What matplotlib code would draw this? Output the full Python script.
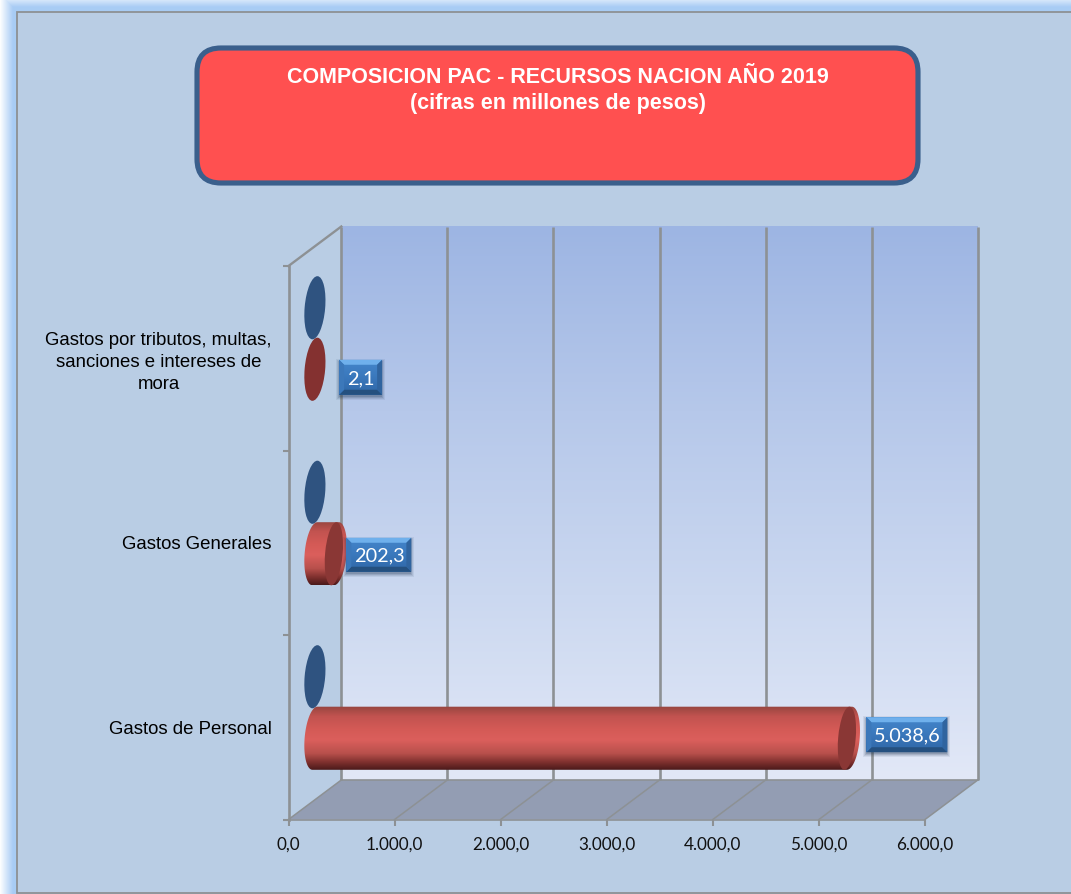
import numpy as np
import matplotlib
matplotlib.use("Agg")
import matplotlib.pyplot as plt
from matplotlib.colors import LinearSegmentedColormap
from matplotlib.patches import Ellipse, FancyBboxPatch, Polygon, Rectangle
from matplotlib.path import Path
from matplotlib.transforms import Affine2D, IdentityTransform

# ---- data ----
categories = ["Gastos de Personal", "Gastos Generales",
              "Gastos por tributos, multas,\nsanciones e intereses de\nmora"]
pac_values = [5038.6, 202.3, 2.1]
other_values = [0.0, 0.0, 0.0]
value_labels = ["5.038,6", "202,3", "2,1"]
x_ticks = [0, 1000, 2000, 3000, 4000, 5000, 6000]
x_tick_labels = ["0,0", "1.000,0", "2.000,0", "3.000,0", "4.000,0", "5.000,0", "6.000,0"]
title_lines = "COMPOSICION PAC - RECURSOS NACION AÑO 2019\n(cifras en millones de pesos)"

# ---- figure ----
W, H = 1071, 894
fig = plt.figure(figsize=(W / 100, H / 100), dpi=100, facecolor="white")
ID = IdentityTransform()
GREY = "#8D9194"

# background glow + panel
bg = fig.add_axes([0, 0, 1, 1], zorder=0)
bg.set_axis_off()
xx, yy = np.meshgrid(np.arange(W) + .5, np.arange(H) + .5)
t = np.clip(np.minimum(xx / 13.0, (yy + 6) / 13.0), 0, 1)
glow0 = np.array([1, 1, 1.0])
glow1 = np.array([0.66, 0.80, 0.96])
img = glow0 + (glow1 - glow0) * t[..., None]
bg.imshow(img, extent=(0, W, H, 0), aspect="auto", interpolation="nearest")
bg.add_patch(Rectangle((16.5, 11.5), W, H - 12.5, fc="#B9CDE4", ec=GREY, lw=1.3))
bg.set_xlim(0, W)
bg.set_ylim(H, 0)

# title box
bg.add_patch(FancyBboxPatch((197, 48), 721, 135, boxstyle="round,pad=0,rounding_size=24",
                            fc="#FF5050", ec="#3A5F8C", lw=3.7, zorder=3))
bg.text(557.5, 90.5, title_lines, ha="center", va="center", color="white", fontsize=15.5,
        fontweight="bold", family="Liberation Sans", linespacing=1.36, zorder=4)

# main axes = front plane of the 3-D box
FX0, FX1, FY0, FY1 = 288.5, 925.0, 819.5, 266.0
ax = fig.add_axes([FX0 / W, (H - FY0) / H, (FX1 - FX0) / W, (FY0 - FY1) / H], zorder=1)
ax.patch.set_visible(False)
ax.set_autoscale_on(False)
ax.set_xlim(0, 6000)
ax.set_ylim(0, 3)
DX, DY = 52.8, 39.5
back = ax.transData + Affine2D().translate(DX, DY)
mid = ax.transData + Affine2D().translate(DX / 2, DY / 2)

# back wall gradient
wall_cmap = LinearSegmentedColormap.from_list("wall", ["#9DB5E3", "#B6C8EA", "#CBD8F0", "#E2E8F7"])
p0 = back.transform((0, 0))
p1 = back.transform((6000, 3))
ax.imshow(np.linspace(0, 1, 256)[:, None], cmap=wall_cmap, aspect="auto", origin="upper",
          extent=(p0[0], p1[0], p0[1], p1[1]), transform=ID, clip_on=False, zorder=1)

# floor
f00 = ax.transData.transform((0, 0))
f60 = ax.transData.transform((6000, 0))
b00 = back.transform((0, 0))
b60 = back.transform((6000, 0))
ax.add_patch(Polygon([f00, b00, b60, f60], closed=True, transform=ID, fc="#939DB3", ec="none",
                     clip_on=False, zorder=1.2))

LW = 1.9
for v in x_ticks:
    b0, b1 = back.transform((v, 0)), back.transform((v, 3))
    f0 = ax.transData.transform((v, 0))
    ax.plot([b0[0], b1[0]], [b0[1], b1[1]], transform=ID, color=GREY, lw=LW,
            clip_on=False, zorder=1.5, solid_capstyle="butt")
    ax.plot([f0[0], b0[0]], [f0[1], b0[1]], transform=ID, color=GREY, lw=1.1,
            clip_on=False, zorder=1.5)
ax.plot([b00[0], b60[0]], [b00[1], b60[1]], transform=ID, color=GREY, lw=1.2, clip_on=False, zorder=1.5)
t0, t1 = ax.transData.transform((0, 3)), back.transform((0, 3))
ax.plot([t0[0], t1[0]], [t0[1], t1[1]], transform=ID, color=GREY, lw=1.7, clip_on=False, zorder=1.5)

# axes furniture
for s in ("top", "right"):
    ax.spines[s].set_visible(False)
for s in ("left", "bottom"):
    ax.spines[s].set_color(GREY)
    ax.spines[s].set_linewidth(LW if s == "left" else 1.2)
ax.set_xticks(x_ticks)
ax.set_xticklabels(x_tick_labels, family="Lato", fontsize=12.3, color="#111111")
ax.tick_params(axis="x", length=4, width=1.5, color=GREY, pad=8)
ax.set_yticks(np.arange(3) + 0.5)
ax.set_yticklabels(categories, family="Liberation Sans", fontsize=13.4, color="black", ma="center",
                   linespacing=1.38)
ax.set_yticks(np.arange(4), minor=True)
ax.tick_params(axis="y", which="major", length=0, pad=12)
ax.tick_params(axis="y", which="minor", length=4, width=1.5, color=GREY)

# cylinders
BAR_H = 1 / 3
EW, EANG = 20.5, -5.0
pxh = 1.03 * abs(ax.transData.transform((0, BAR_H))[1] - ax.transData.transform((0, 0))[1])
bar_cmap = LinearSegmentedColormap.from_list(
    "bar", [(0, "#96453F"), (0.16, "#C25350"), (0.36, "#D45A56"), (0.53, "#DB5F5C"),
            (0.74, "#B8504C"), (0.89, "#7A2E2C"), (1, "#4A1A1A")])


def ellipse_pts(cx, cy, theta):
    a, b = EW / 2, pxh / 2
    ang = np.radians(EANG)
    x, y = a * np.cos(theta), b * np.sin(theta)
    return np.c_[cx + x * np.cos(ang) - y * np.sin(ang), cy + x * np.sin(ang) + y * np.cos(ang)]


def ellipse(cx, cy, width, color, z):
    ax.add_patch(Ellipse((cx, cy), width, pxh, angle=EANG, transform=ID, fc=color, ec="none",
                         clip_on=False, zorder=z))


for i, (v_red, v_blue) in enumerate(zip(pac_values, other_values)):
    # blue series (value 0: only its end cap shows) sits in the upper half of the band
    bx, by = mid.transform((v_blue, i + 0.5 + BAR_H / 2))
    ellipse(bx, by, EW, "#2F5380", 4)
    # red series
    rx0, ry = mid.transform((0, i + 0.5 - BAR_H / 2))
    rx1, _ = mid.transform((v_red, i + 0.5 - BAR_H / 2))
    left = ellipse_pts(rx0, ry, np.linspace(np.pi / 2, 3 * np.pi / 2, 40))
    right = ellipse_pts(rx1, ry, np.linspace(-np.pi / 2, np.pi / 2, 40))
    outline = np.vstack([left, right, left[:1]])
    if rx1 - rx0 < 5:
        ellipse(rx0, ry, EW, "#843130", 6)
        continue
    im = ax.imshow(np.linspace(0, 1, 256)[:, None], cmap=bar_cmap, aspect="auto", origin="upper",
                   extent=(rx0 - 15, rx1 + 15, ry - pxh / 2, ry + pxh / 2), transform=ID,
                   clip_on=True, zorder=5)
    im.set_clip_path(Path(outline), ID)
    ellipse(rx1 - 2.5, ry, EW - 3, "#8A3735", 6)

# value labels: bevelled blue boxes
label_gap = [17, 10, 24]
label_shift = [3.5, -1, -8]
label_size = [(81, 35), (65, 34), (43, 35)]
box_cmap = LinearSegmentedColormap.from_list("box", ["#4485CA", "#3A78BC", "#2F66A6"])
for i, txt in enumerate(value_labels):
    ex, ey = mid.transform((pac_values[i], i + 0.5 - BAR_H / 2))
    w, h = label_size[i]
    x0 = ex + label_gap[i]
    y0 = ey + label_shift[i] - h / 2
    x1, y1 = x0 + w, y0 + h
    for grow, alpha in ((4, .08), (3, .10), (2, .14), (1, .18)):
        ax.add_patch(Rectangle((x0 - grow + 1, y0 - grow - 1), w + 2 * grow - 2, h + 2 * grow - 2,
                               transform=ID, fc="#1F3552", ec="none", alpha=alpha,
                               clip_on=False, zorder=7))
    ax.imshow(np.linspace(0, 1, 64)[:, None], cmap=box_cmap, aspect="auto", origin="upper",
              extent=(x0, x1, y0, y1), transform=ID, clip_on=False, zorder=8)
    b = 5
    ax.add_patch(Polygon([(x0, y1), (x1, y1), (x1 - b, y1 - b), (x0 + b, y1 - b)], transform=ID,
                         fc="#6FB0EC", ec="none", clip_on=False, zorder=9))
    ax.add_patch(Polygon([(x0, y0), (x1, y0), (x1 - b, y0 + b), (x0 + b, y0 + b)], transform=ID,
                         fc="#25507F", ec="none", clip_on=False, zorder=9))
    ax.add_patch(Polygon([(x0, y0), (x0, y1), (x0 + b, y1 - b), (x0 + b, y0 + b)], transform=ID,
                         fc="#3C78BA", ec="none", clip_on=False, zorder=9))
    ax.add_patch(Polygon([(x1, y0), (x1, y1), (x1 - b, y1 - b), (x1 - b, y0 + b)], transform=ID,
                         fc="#30649F", ec="none", clip_on=False, zorder=9))
    ax.text((x0 + x1) / 2, (y0 + y1) / 2, txt, transform=ID, ha="center", va="center_baseline",
            color="white", family="Lato", fontsize=14.3, clip_on=False, zorder=10)

ax.set_xlim(0, 6000)
ax.set_ylim(0, 3)
fig.savefig("out.png", dpi=100)
